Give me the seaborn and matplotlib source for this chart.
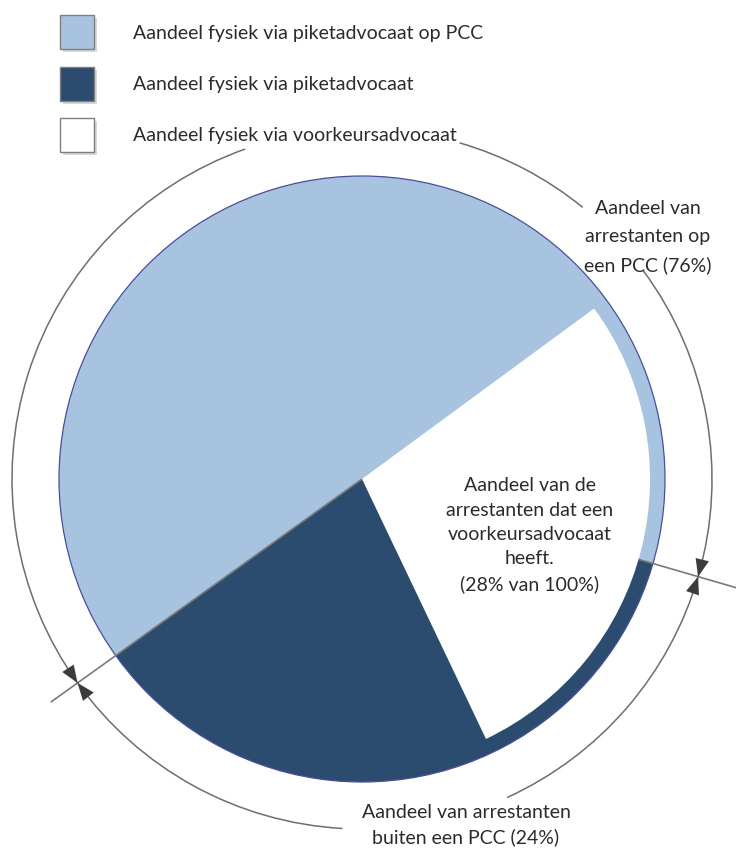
import numpy as np
import matplotlib
matplotlib.use("Agg")
import matplotlib.pyplot as plt
import seaborn as sns
from matplotlib.patches import Arc, Circle, Rectangle

# ---- data (shares as drawn in the schematic, percent) ----
slice_labels = ["Aandeel fysiek via piketadvocaat op PCC", "Aandeel fysiek via piketadvocaat"]
slice_shares = [64.4, 35.6]
slice_colors = ["#A7C3DF", "#2B4C6E"]
voorkeur_share = [28, 72]
legend_labels = ["Aandeel fysiek via piketadvocaat op PCC",
                 "Aandeel fysiek via piketadvocaat",
                 "Aandeel fysiek via voorkeursadvocaat"]
legend_colors = ["#A7C3DF", "#2B4C6E", "#FFFFFF"]
pcc_label = "Aandeel van\narrestanten op\neen PCC (76%)"
buiten_label = "Aandeel van arrestanten\nbuiten een PCC (24%)"
center_label = "Aandeel van de\narrestanten dat een\nvoorkeursadvocaat\nheeft.\n(28% van 100%)"

sns.set_theme(style="white")
plt.rcParams["font.family"] = ["Lato", "DejaVu Sans"]

W, H = 736, 853
fig = plt.figure(figsize=(W / 100, H / 100), dpi=100)
ax = fig.add_axes([0, 0, 1, 1])

def Y(y):
    return H - y

cx, cy = 362, Y(480)
R = 303
R_in = 288
R_arc = 350
start = -16.2
split_left = start + 360 * slice_shares[0] / 100.0

ax.pie(slice_shares, colors=slice_colors, startangle=start, counterclock=True,
       center=(cx, cy), radius=R, wedgeprops=dict(linewidth=0))
ax.pie(voorkeur_share, colors=["white", (1, 1, 1, 0)], startangle=-64.5, counterclock=True,
       center=(cx, cy), radius=R_in, wedgeprops=dict(linewidth=0))
ax.add_patch(Circle((cx, cy), R, fill=False, edgecolor="#4A4E9A", linewidth=0.9, zorder=3))

def pt(r, ang):
    a = np.deg2rad(ang)
    return cx + r * np.cos(a), cy + r * np.sin(a)

# boundary lines
for ang, r0, r1 in [(split_left, 0, 383), (start, R_in, 392)]:
    x0, y0 = pt(r0, ang)
    x1, y1 = pt(r1, ang)
    ax.plot([x0, x1], [y0, y1], color="#7A7A7A", lw=1.2, zorder=4, solid_capstyle="butt")

# outer dimension arcs
arc_color = "#6E6E6E"
segments = [(109.5, split_left), (50.9, 73.8), (start, 36.5), (-65.5, start), (split_left, 266.8)]
for t1, t2 in segments:
    ax.add_patch(Arc((cx, cy), 2 * R_arc, 2 * R_arc, theta1=t1, theta2=t2,
                     color=arc_color, lw=1.1, zorder=4))

# arrowheads at the two crossings
for ang, d in [(start, 5), (start, -5), (split_left, 5), (split_left, -5)]:
    tip = pt(R_arc, ang)
    tail = pt(R_arc, ang + d)
    ax.annotate("", xy=tip, xytext=tail,
                arrowprops=dict(arrowstyle="-|>,head_length=0.9,head_width=0.35",
                                color="#3C3C3C", lw=0, shrinkA=0, shrinkB=0,
                                mutation_scale=14), zorder=5)

# texts
txt = dict(color="#2B2B2B", fontsize=14)
ax.text(648, Y(237), pcc_label, ha="center", va="center", linespacing=1.78, **txt)
ax.text(466, Y(825), buiten_label, ha="center", va="center", linespacing=1.5, **txt)
ax.text(530, Y(535), center_label, ha="center", va="center", linespacing=1.52, **txt)

# legend
for i, (lab, col) in enumerate(zip(legend_labels, legend_colors)):
    top = 16 + i * 51.5
    ax.add_patch(Rectangle((63, Y(top + 37)), 34, 34, facecolor="#D8D8D8", edgecolor="none", zorder=5))
    ax.add_patch(Rectangle((60, Y(top + 34)), 34, 34, facecolor=col, edgecolor="#7F7F7F", lw=1.0, zorder=6))
    ax.text(133, Y(top + 17), lab, ha="left", va="center", zorder=6, **txt)

ax.set_xlim(0, W)
ax.set_ylim(0, H)
ax.set_aspect("equal")
ax.axis("off")
fig.savefig("out.png", dpi=100, facecolor="white")
